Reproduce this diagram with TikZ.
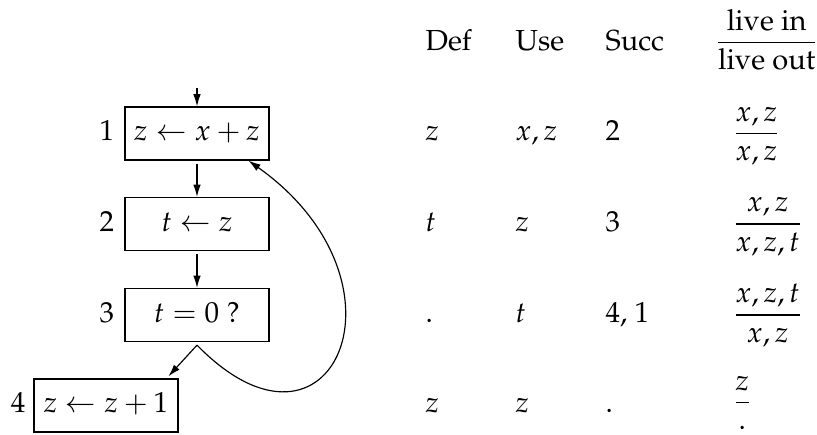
\documentclass[tikz,border=0pt]{standalone}
\usepackage[T1]{fontenc}
\usepackage{mathpazo}
\usetikzlibrary{arrows.meta,calc}
\begin{document}
\begin{tikzpicture}[x=0.3448pt,y=-0.3448pt,
  blk/.style={draw,line width=0.4pt,minimum width=49.6pt,minimum height=18.3pt,
    inner sep=0pt,text height=0.75em,text depth=0.25em},
  lbl/.style={anchor=base east},
  cell/.style={anchor=base west,inner sep=0pt},
  arr/.style={line width=0.4pt,-{Latex[length=4.2pt,width=2.6pt]}},
  ]
\useasboundingbox (0,0) rectangle (817,434);
% flow graph
\node[blk] (b1) at (197,133.5) {$z \leftarrow x + z$};
\node[blk] (b2) at (197,224) {$t \leftarrow z$};
\node[blk] (b3) at (197,315) {$t = 0\ ?$};
\node[blk] (b4) at (106,405.5) {$z \leftarrow z + 1$};
\node[lbl] (l1) at (b1.base west) {1};
\node[lbl] (l2) at (b2.base west) {2};
\node[lbl] (l3) at (b3.base west) {3};
\node[lbl,inner sep=2.6pt] (l4) at (b4.base west) {4};
\coordinate (top) at (197,88);
\coordinate (split) at ($(b3.south)+(0,3)$);
\coordinate (in4) at ($(b4.north east)+(-12,0)$);
\coordinate (back) at ($(b1.south east)+(-21,0)$);
\draw[arr] (top) -- (b1.north);
\draw[arr,shorten <=1pt] (b1.south) -- (b2.north);
\draw[arr,shorten <=1pt] (b2.south) -- (b3.north);
\draw[arr,shorten >=1pt] (split) -- (in4);
\draw[arr] (split) .. controls +(135,138) and +(172,122) .. (back);
% table header
\node[cell] (hdef) at (425,50) {Def};
\node[cell] (huse) at (515,50) {Use};
\node[cell] (hsucc) at (605,50) {Succ};
\node[cell] (hlive) at (714,50) {$\displaystyle\frac{\mbox{live in}}{\mbox{live out}}$};
% rows
\node[cell] (d1) at (425,140.75) {$z$};
\node[cell] (u1) at (515,140.75) {$x,z$};
\node[cell] (s1) at (605,140.75) {2};
\node[cell] (f1) at (731.5,140.75) {$\displaystyle\frac{x,z}{x,z}$};
\node[cell] (d2) at (425,231.25) {$t$};
\node[cell] (u2) at (515,231.25) {$z$};
\node[cell] (s2) at (605,231.25) {3};
\node[cell] (f2) at (731.5,231.25) {$\displaystyle\frac{x,z}{x,z,t}$};
\node[cell] (d3) at (425,322.25) {.};
\node[cell] (u3) at (515,322.25) {$t$};
\node[cell] (s3) at (605,322.25) {4, 1};
\node[cell] (f3) at (731.5,322.25) {$\displaystyle\frac{x,z,t}{x,z}$};
\node[cell] (d4) at (425,412.75) {$z$};
\node[cell] (u4) at (515,412.75) {$z$};
\node[cell] (s4) at (605,412.75) {.};
\node[cell] (f4) at (731.5,410) {$\displaystyle\frac{z}{.}$};
\end{tikzpicture}
\end{document}
